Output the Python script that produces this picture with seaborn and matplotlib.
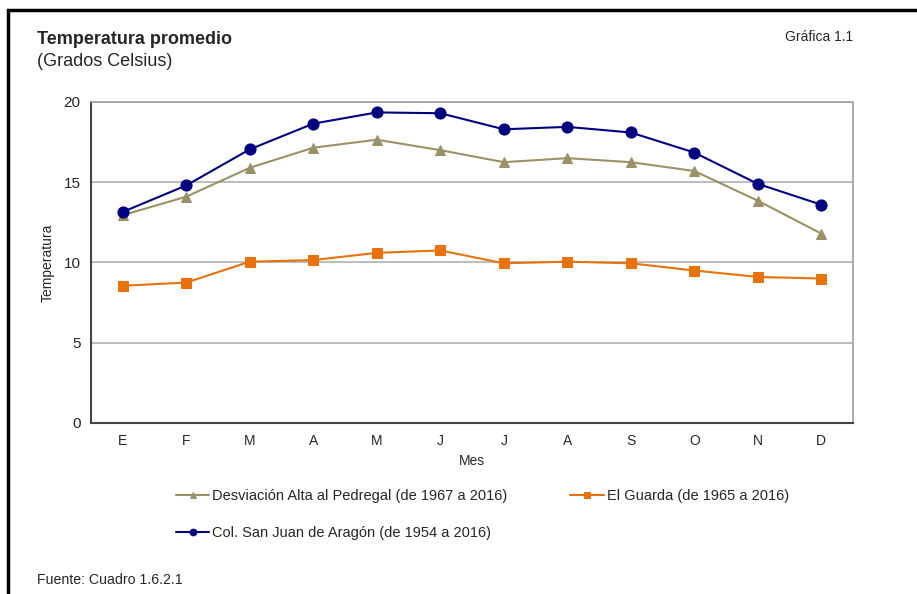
import numpy as np
import pandas as pd
import matplotlib
matplotlib.use("Agg")
import matplotlib.pyplot as plt
import seaborn as sns
from matplotlib.patches import Rectangle

meses = ["E", "F", "M", "A", "M", "J", "J", "A", "S", "O", "N", "D"]
pedregal = [12.95, 14.1, 15.9, 17.15, 17.65, 17.0, 16.25, 16.5, 16.25, 15.7, 13.85, 11.8]
guarda = [8.55, 8.75, 10.05, 10.15, 10.6, 10.75, 9.95, 10.05, 9.95, 9.5, 9.1, 9.0]
aragon = [13.15, 14.8, 17.05, 18.65, 19.35, 19.3, 18.3, 18.45, 18.1, 16.85, 14.9, 13.6]

series = [
    ("Desviación Alta al Pedregal (de 1967 a 2016)", pedregal, "#9a9266", "^", 7),
    ("Col. San Juan de Aragón (de 1954 a 2016)", aragon, "#000080", "o", 8),
    ("El Guarda (de 1965 a 2016)", guarda, "#e8720c", "s", 7),
]

sns.set_style("white")
plt.rcParams["font.family"] = ["Liberation Sans", "DejaVu Sans"]

fig = plt.figure(figsize=(9.17, 5.94), dpi=100)
ax = fig.add_axes([0.0992, 0.2879, 0.8311, 0.5404])

pos = np.arange(len(meses))
for nombre, vals, color, mk, ms in series:
    df = pd.DataFrame({"pos": pos, "valor": vals})
    sns.lineplot(data=df, x="pos", y="valor", ax=ax, color=color, marker=mk,
                 markersize=ms, markeredgecolor=color, linewidth=1.5, label=nombre)

ax.set_xlim(-0.5, 11.5)
ax.set_ylim(0, 20)
ax.set_yticks([0, 5, 10, 15, 20])
ax.set_xticks(pos)
ax.set_xticklabels(meses)
ax.set_xticks(np.arange(-0.5, 12, 1), minor=True)
ax.tick_params(axis="x", which="major", length=0, labelsize=10, pad=8)
ax.tick_params(axis="x", which="minor", length=4, width=1.2, color="#444444", direction="out")
ax.tick_params(axis="y", length=4, width=1.2, color="#444444", direction="out", labelsize=11)
ax.grid(axis="y", color="#b0b0b0", linewidth=1.2)
ax.set_axisbelow(True)
for s in ["top", "right"]:
    ax.spines[s].set_color("#a0a0a0")
    ax.spines[s].set_linewidth(1.2)
for s in ["left", "bottom"]:
    ax.spines[s].set_color("#444444")
    ax.spines[s].set_linewidth(1.5)

ax.set_xlabel("Mes", fontsize=10, labelpad=4)
ax.set_ylabel("Temperatura", fontsize=10, labelpad=6)

ax.legend(loc="upper left", bbox_to_anchor=(0.094, -0.165), ncol=2, frameon=False,
          fontsize=10.5, handlelength=2.3, handletextpad=0.2, columnspacing=4.3,
          labelspacing=1.55, markerscale=0.6)

fig.text(37 / 917, 1 - 40 / 594, "Temperatura promedio", fontsize=13, fontweight="bold", va="center")
fig.text(37 / 917, 1 - 61 / 594, "(Grados Celsius)", fontsize=13, va="center")
fig.text(853 / 917, 1 - 37 / 594, "Gráfica 1.1", fontsize=10, va="center", ha="right")
fig.text(37 / 917, 1 - 580 / 594, "Fuente: Cuadro 1.6.2.1", fontsize=10.2, va="center")

fig.patches.append(Rectangle((8 / 917, -0.1), 1.2, 1.1 - 10 / 594, transform=fig.transFigure,
                             fill=False, edgecolor="black", linewidth=2.5))

fig.savefig("out.png", dpi=100)
